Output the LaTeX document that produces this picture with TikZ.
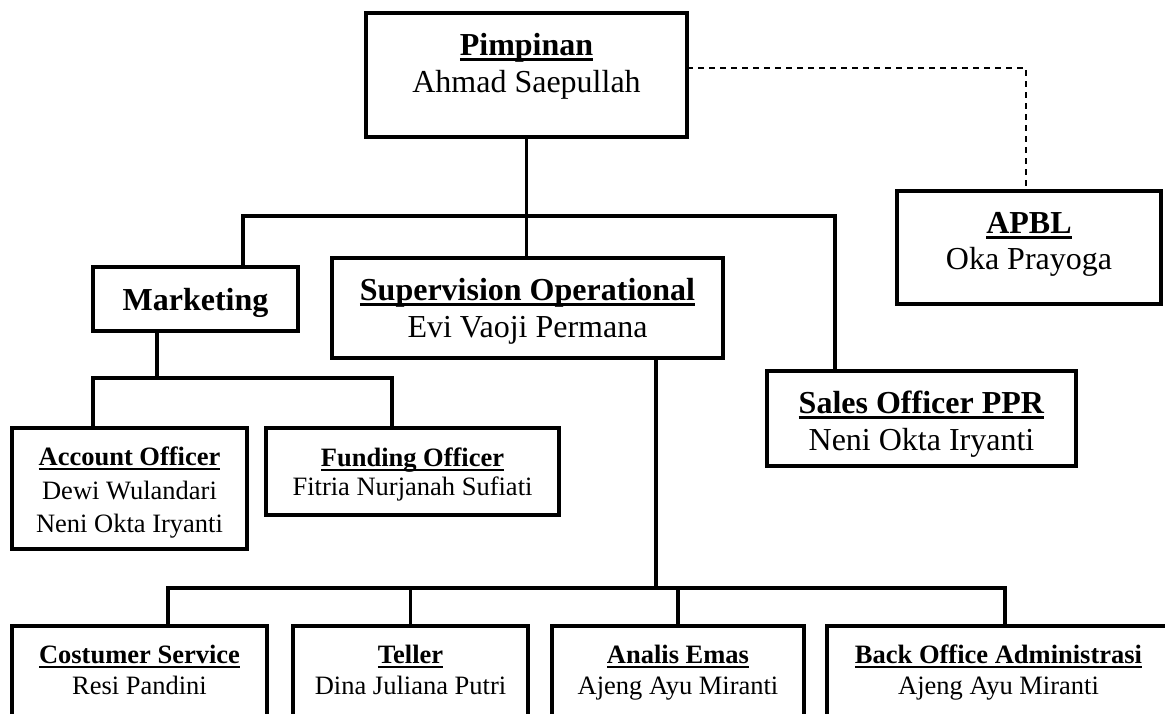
\documentclass[tikz,border=0pt]{standalone}
\usepackage{fontspec}
\setmainfont{Liberation Serif}
\usepackage{tikz}
\usetikzlibrary{
  calc,
  positioning,
}
\tikzstyle{link} = [
  line width=3.2pt,
  black,
]
\tikzstyle{dotlink} = [
  line width=2pt,
  dash pattern=on 6pt off 5pt,
  black,
]
\newcommand\bigtxt{\fontsize{32}{36.5}\selectfont}
\newcommand\smalltxt{\fontsize{26.5}{31}\selectfont}
\newcommand\undl[1]{\setbox0\hbox{#1}\rlap{\rule[-0.17em]{\wd0}{0.09em}}\box0}

\begin{document}
\begin{tikzpicture}[x=1pt, y=-1pt,
    box/.style={draw, line width=3.2pt, inner sep=0pt, outer sep=0pt,
                minimum width=#1},
    big/.style={inner sep=0pt, align=center, font=\bigtxt},
    small/.style={inner sep=0pt, align=center, font=\smalltxt}]
  \path [use as bounding box, fill=white] (0,0) rectangle (1165,713);
  \clip (0,0) rectangle (1165,713);
  % boxes
  \node [box=321pt, minimum height=124pt] (pimpinan) at (526.5,75) {};
  \node [box=205pt, minimum height=64pt] (marketing) at (195.5,299) {};
  \node [box=391pt, minimum height=100pt] (supervision) at (527.5,308) {};
  \node [box=264pt, minimum height=113pt] (apbl) at (1029,247.5) {};
  \node [box=309pt, minimum height=95pt] (sales) at (921.5,418.5) {};
  \node [box=235pt, minimum height=121pt] (account) at (129.5,488.5) {};
  \node [box=293pt, minimum height=87pt] (funding) at (412.5,471.5) {};
  \node [box=255pt, minimum height=134pt] (service) at (139.5,693) {};
  \node [box=235pt, minimum height=134pt] (teller) at (410.5,693) {};
  \node [box=252pt, minimum height=134pt] (emas) at (678,693) {};
  \node [box=343pt, minimum height=134pt] (backoffice) at (998.5,693) {};
  % texts
  \node [big, below=20.1pt of pimpinan.north] (pimpinan-txt)
        {\undl{\textbf{Pimpinan}}\\Ahmad Saepullah};
  \node [big, anchor=base] (marketing-txt) at ([yshift=-11pt]marketing.center)
        {\textbf{Marketing}};
  \node [big, below=20.1pt of supervision.north] (supervision-txt)
        {\undl{\textbf{Supervision Operational}}\\Evi Vaoji Permana};
  \node [big, below=20.8pt of apbl.north] (apbl-txt)
        {\undl{\textbf{APBL}}\\Oka Prayoga};
  \node [big, below=20.1pt of sales.north] (sales-txt)
        {\undl{\textbf{Sales Officer PPR}}\\Neni Okta Iryanti};
  \node [small, below=18.9pt of account.north] (account-txt)
        {\undl{\textbf{Account Officer}}\\[2.5pt]Dewi Wulandari\\[2.5pt]Neni Okta Iryanti};
  \node [small, below=19.9pt of funding.north] (funding-txt)
        {\undl{\textbf{Funding Officer}}\\[-2pt]Fitria Nurjanah Sufiati};
  \node [small, below=18.9pt of service.north] (service-txt)
        {\undl{\textbf{Costumer Service}}\\Resi Pandini};
  \node [small, below=18.9pt of teller.north] (teller-txt)
        {\undl{\textbf{Teller}}\\Dina Juliana Putri};
  \node [small, below=18.9pt of emas.north] (emas-txt)
        {\undl{\textbf{Analis Emas}}\\Ajeng Ayu Miranti};
  \node [small, below=18.9pt of backoffice.north] (backoffice-txt)
        {\undl{\textbf{Back Office Administrasi}}\\Ajeng Ayu Miranti};
  % connectors
  \path (pimpinan.south) ++(0,79) coordinate (hub);
  \draw [link] (pimpinan) -- (pimpinan |- supervision.north);
  \draw [link] ([xshift=47.5pt]marketing.north) |- (hub)
        -| ([xshift=-86.5pt]sales.north);
  \draw [link] ([xshift=-38.5pt]marketing.south) -- ++(0,47) coordinate (mkbus);
  \draw [link] ([xshift=-36.5pt]account.north) |- (mkbus)
        -| ([xshift=-20.5pt]funding.north);
  \draw [link] ([xshift=128.5pt]supervision.south) -- ++(0,230) coordinate (opbus);
  \draw [link] ([xshift=28.5pt]service.north) |- (opbus)
        -| ([xshift=6.5pt]backoffice.north);
  \draw [link] (teller.north) -- (teller.north |- opbus);
  \draw [link] (emas.north) -- (emas.north |- opbus);
  \draw [dotlink] ([yshift=7pt]pimpinan.east) -| ([xshift=-3pt]apbl.north);
\end{tikzpicture}
\end{document}
